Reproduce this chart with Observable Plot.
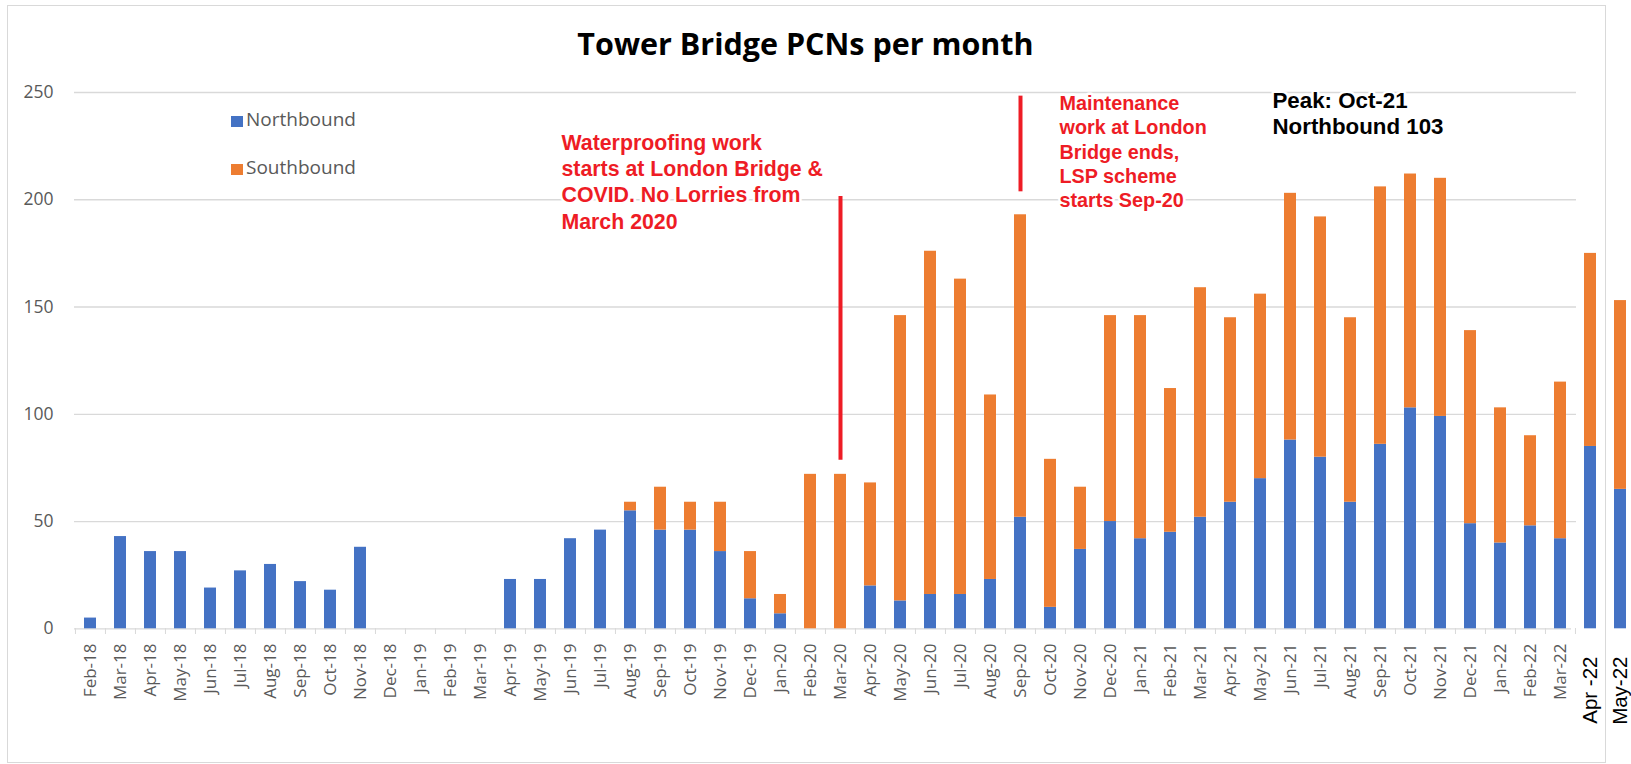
<!DOCTYPE html>
<html>
<head>
<meta charset="utf-8">
<script src="https://cdn.jsdelivr.net/npm/d3@7"></script>
<script src="https://cdn.jsdelivr.net/npm/@observablehq/plot@0.6"></script>
<style>
  html, body { margin: 0; padding: 0; background: #fff; }
  #wrap { position: relative; width: 1631px; height: 764px; overflow: hidden; background: #fff; }
  #title { position: absolute; left: 0; top: 27.9px; width: 1611px; text-align: center;
           font: bold 30.5px/30.5px "Open Sans", sans-serif; color: #000; z-index: 3; }
  .lg { position: absolute; font: 19px/19px "Open Sans", sans-serif; color: #595959; z-index: 3; }
  .sw { position: absolute; width: 12px; z-index: 3; }
  #border { position: absolute; left: 7px; top: 5px; width: 1597px; height: 756px;
            border: 1.5px solid #d9d9d9; z-index: 2; pointer-events: none; }
  #chart { position: absolute; left: 0; top: 0; z-index: 1; }
</style>
</head>
<body>
<div id="wrap">
  <div id="chart"></div>
  <div id="border"></div>
  <div id="title">Tower Bridge PCNs per month</div>
  <div id="legend"></div>
</div>
<script>
// ---- data ----
const months = [
  "Feb-18","Mar-18","Apr-18","May-18","Jun-18","Jul-18","Aug-18","Sep-18","Oct-18","Nov-18","Dec-18",
  "Jan-19","Feb-19","Mar-19","Apr-19","May-19","Jun-19","Jul-19","Aug-19","Sep-19","Oct-19","Nov-19","Dec-19",
  "Jan-20","Feb-20","Mar-20","Apr-20","May-20","Jun-20","Jul-20","Aug-20","Sep-20","Oct-20","Nov-20","Dec-20",
  "Jan-21","Feb-21","Mar-21","Apr-21","May-21","Jun-21","Jul-21","Aug-21","Sep-21","Oct-21","Nov-21","Dec-21",
  "Jan-22","Feb-22","Mar-22","Apr-22","May-22"
];
const monthLabels = months.map(m => m === "Apr-22" ? "Apr -22" : m);
const northbound = [5,43,36,36,19,27,30,22,18,38, 0,0,0,0, 23,23,42,46,55,46,46,36,14,7, 0,0,
  20,13,16,16,23,52,10,37,50, 42,45,52,59,70,88,80,59,86,103,99,49, 40,48,42,85,65];
const southbound = [0,0,0,0,0,0,0,0,0,0,0,0,0,0,0,0,0,0, 4,20,13,23,22,9, 72,72,
  48,133,160,147,86,141,69,29,96, 104,67,107,86,86,115,112,86,120,109,111,90, 63,42,73,90,88];
const series = ["Northbound", "Southbound"];
const seriesColors = ["#4472C4", "#ED7D31"];
const yTicks = [0, 50, 100, 150, 200, 250];

const events = [
  {month: "Mar-20", from: 78.6, to: 201.5},
  {month: "Sep-20", from: 203.7, to: 248.3}
];
const redNotes = [
  {month: "Jun-19", y: 186.5, text: "Waterproofing work\nstarts at London Bridge &\nCOVID. No Lorries from\nMarch 2020"}
];
const redNotes2 = [
  {month: "Oct-20", y: 196.6, text: "Maintenance\nwork at London\nBridge ends,\nLSP scheme\nstarts Sep-20"}
];
const peakNote = [
  {month: "May-21", y: 230.8, text: "Peak: Oct-21\nNorthbound 103"}
];

// ---- build long table ----
const table = [];
months.forEach((m, i) => {
  table.push({month: m, dir: series[0], n: northbound[i]});
  table.push({month: m, dir: series[1], n: southbound[i]});
});
const labelOf = new Map(months.map((m, i) => [m, monthLabels[i]]));

const plot = Plot.plot({
  width: 1631,
  height: 764,
  marginLeft: 73, marginRight: 0, marginTop: 92, marginBottom: 136,
  style: {fontFamily: "Open Sans, sans-serif", background: "transparent", overflow: "visible"},
  x: {type: "band", domain: months, range: [73.26, 1637.4], paddingInner: 0.6, paddingOuter: 0.3},
  y: {domain: [0, 250], range: [628.3, 92]},
  color: {domain: series, range: seriesColors},
  marks: [
    Plot.ruleY(yTicks.filter(d => d > 0), {stroke: "#d9d9d9", strokeWidth: 1.3, insetLeft: 1, insetRight: 55}),
    Plot.ruleY([0], {stroke: "#d9d9d9", strokeWidth: 1.3, insetLeft: 1, insetRight: 60}),
    Plot.axisX(months.slice(0, 51), {tickSize: 6, tickFormat: () => "", dx: -15.04, stroke: "#d9d9d9", label: null}),
    Plot.axisY(yTicks, {tickSize: 0, tickPadding: 20, fontSize: 17.5, fill: "#595959", label: null}),
    Plot.axisX(months.slice(0, 50), {tickSize: 0, tickPadding: 15, tickRotate: -90, fontSize: 17,
      fill: "#595959", label: null, tickFormat: d => labelOf.get(d)}),
    Plot.axisX(months.slice(50), {tickSize: 0, tickPadding: 28, tickRotate: -90, fontSize: 20.5,
      fill: "#000", fontFamily: "Liberation Sans, sans-serif", label: null, tickFormat: d => labelOf.get(d)}),
    Plot.barY(table, {x: "month", y: "n", fill: "dir"}),
    Plot.ruleX(events, {x: "month", y1: "from", y2: "to", stroke: "#ee1c25", strokeWidth: 4}),
    Plot.text(redNotes, {x: "month", y: "y", text: "text", dx: -9, textAnchor: "start", lineAnchor: "bottom",
      fontSize: 21.3, lineHeight: 1.235, fontWeight: "bold", fontFamily: "Liberation Sans, Arial, sans-serif",
      fill: "#ee1c25", stroke: "white", strokeWidth: 5, paintOrder: "stroke"}),
    Plot.text(redNotes2, {x: "month", y: "y", text: "text", dx: 9, textAnchor: "start", lineAnchor: "bottom",
      fontSize: 19.8, lineHeight: 1.222, fontWeight: "bold", fontFamily: "Liberation Sans, Arial, sans-serif",
      fill: "#ee1c25", stroke: "white", strokeWidth: 5, paintOrder: "stroke"}),
    Plot.text(peakNote, {x: "month", y: "y", text: "text", dx: 12, textAnchor: "start", lineAnchor: "bottom",
      fontSize: 22.3, lineHeight: 1.15, fontWeight: "bold", fontFamily: "Liberation Sans, Arial, sans-serif",
      fill: "#000", stroke: "white", strokeWidth: 5, paintOrder: "stroke"})
  ]
});
document.getElementById("chart").appendChild(plot);

// ---- legend (HTML) ----
const legend = document.getElementById("legend");
const legendTops = [109.7, 157.8];
series.forEach((s, i) => {
  const sw = document.createElement("div");
  sw.className = "sw";
  sw.style.left = "231px";
  sw.style.top = (legendTops[i] + 6.3) + "px";
  sw.style.height = "11px";
  sw.style.background = seriesColors[i];
  legend.appendChild(sw);
  const t = document.createElement("div");
  t.className = "lg";
  t.style.left = "246px";
  t.style.top = legendTops[i] + "px";
  t.textContent = s;
  legend.appendChild(t);
});
</script>
</body>
</html>
